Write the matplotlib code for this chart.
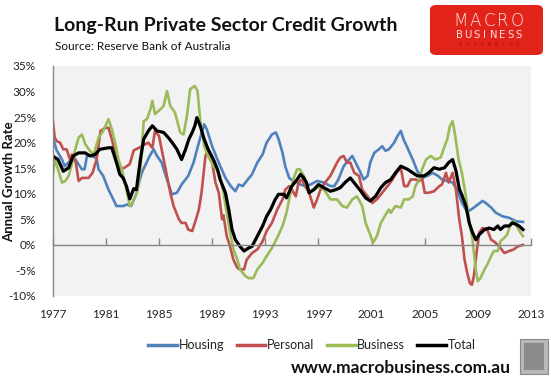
import matplotlib
matplotlib.use("Agg")
import matplotlib.pyplot as plt
from matplotlib.patches import FancyBboxPatch, Rectangle
import numpy as np

# ---------------- data ----------------
housing_years = [1977.0, 1977.3, 1977.7, 1977.9, 1978.3, 1978.7, 1979.2, 1979.4, 1979.6, 1980.3,
                 1980.45, 1980.8, 1981.2, 1981.45, 1981.8, 1982.3, 1982.6, 1982.9, 1983.3, 1983.5,
                 1983.7, 1984.3, 1984.6, 1984.85, 1985.2, 1985.6, 1985.97, 1986.35, 1986.7, 1987.2,
                 1987.6, 1988.0, 1988.4, 1988.6, 1989.0, 1989.4, 1990.0, 1990.4, 1990.75, 1991.0,
                 1991.3, 1991.6, 1992.0, 1992.4, 1992.8, 1993.1, 1993.5, 1993.8, 1994.0, 1994.3,
                 1994.5, 1994.8, 1995.1, 1995.5, 1995.65, 1996.0, 1996.4, 1996.9, 1997.4, 1997.9,
                 1998.2, 1998.5, 1998.9, 1999.3, 1999.55, 1999.8, 2000.05, 2000.4, 2000.7, 2000.9,
                 2001.2, 2001.55, 2001.8, 2002.05, 2002.3, 2002.7, 2002.95, 2003.2, 2003.4, 2003.7,
                 2004.1, 2004.45, 2004.8, 2005.2, 2005.6, 2006.0, 2006.3, 2006.7, 2007.1, 2007.5,
                 2007.8, 2008.2, 2008.6, 2009.0, 2009.35, 2009.6, 2010.0, 2010.35, 2010.85, 2011.35,
                 2011.9, 2012.4]
housing = [21.0, 18.5, 16.7, 15.4, 16.4, 16.7, 14.8, 14.8, 17.7, 17.0,
           14.8, 13.5, 10.8, 9.5, 7.6, 7.6, 7.9, 7.6, 10.0, 12.2,
           14.1, 17.4, 18.7, 17.4, 16.1, 12.8, 9.9, 10.2, 11.8, 13.5,
           16.1, 20.0, 23.6, 22.6, 19.3, 16.7, 13.1, 11.5, 10.5, 11.8,
           11.5, 12.5, 13.8, 16.1, 17.7, 20.0, 21.6, 22.0, 20.7, 18.0,
           15.4, 13.1, 12.5, 12.2, 11.8, 11.5, 11.8, 12.5, 12.2, 11.5,
           11.5, 12.8, 15.4, 16.7, 17.4, 16.1, 14.8, 12.8, 13.5, 16.1,
           18.0, 18.7, 19.3, 18.4, 18.7, 20.0, 21.3, 22.3, 20.7, 19.0,
           16.7, 14.4, 13.1, 13.5, 14.1, 13.5, 12.8, 12.5, 12.2, 10.5,
           8.2, 6.5, 7.1, 7.9, 8.6, 8.2, 7.3, 6.3, 5.6, 5.3,
           4.6, 4.5]

personal_years = [1977.0, 1977.15, 1977.3, 1977.55, 1977.8, 1978.05, 1978.3, 1978.45, 1978.7, 1978.95,
                  1979.2, 1979.7, 1980.0, 1980.3, 1980.6, 1980.95, 1981.2, 1981.45, 1981.8, 1982.1,
                  1982.4, 1982.8, 1983.1, 1983.5, 1983.96, 1984.2, 1984.5, 1984.7, 1985.0, 1985.2,
                  1985.5, 1985.85, 1986.1, 1986.5, 1986.7, 1987.0, 1987.2, 1987.5, 1987.7, 1988.0,
                  1988.2, 1988.5, 1988.7, 1989.0, 1989.25, 1989.5, 1989.75, 1989.85, 1990.1, 1990.35,
                  1990.6, 1990.9, 1991.1, 1991.4, 1991.6, 1992.0, 1992.4, 1992.8, 1993.1, 1993.5,
                  1993.9, 1994.3, 1994.5, 1994.8, 1995.0, 1995.3, 1995.5, 1995.75, 1996.0, 1996.3,
                  1996.65, 1996.9, 1997.15, 1997.5, 1997.9, 1998.15, 1998.4, 1998.65, 1998.9, 1999.15,
                  1999.4, 1999.7, 2000.05, 2000.3, 2000.7, 2001.05, 2001.4, 2001.8, 2002.2, 2002.5,
                  2002.8, 2003.2, 2003.45, 2003.7, 2003.95, 2004.3, 2004.6, 2004.8, 2005.0, 2005.3,
                  2005.7, 2006.1, 2006.3, 2006.6, 2006.8, 2007.1, 2007.35, 2007.6, 2007.8, 2008.0,
                  2008.2, 2008.4, 2008.55, 2008.7, 2008.9, 2009.1, 2009.35, 2009.7, 2010.0, 2010.2,
                  2010.5, 2010.7, 2011.0, 2011.35, 2011.7, 2012.0, 2012.4]
personal = [24.6, 21.0, 20.3, 20.0, 18.7, 18.7, 16.7, 17.7, 16.7, 12.5,
            13.1, 13.1, 14.1, 16.7, 22.3, 22.9, 22.9, 20.7, 16.7, 14.8,
            15.1, 15.8, 18.5, 19.0, 19.7, 20.0, 19.0, 22.3, 21.3, 18.7,
            14.8, 10.2, 7.6, 5.0, 4.3, 4.3, 3.0, 2.7, 4.3, 6.9,
            10.2, 17.4, 18.7, 16.1, 12.2, 10.2, 5.0, 5.8, 1.7, -0.3,
            -2.9, -4.5, -4.8, -4.8, -2.9, -1.6, -0.9, 0.7, 2.7, 4.3,
            6.9, 8.9, 10.8, 11.5, 10.8, 9.5, 12.2, 12.8, 11.5, 10.2,
            7.3, 8.9, 10.8, 12.2, 13.5, 14.8, 16.1, 17.1, 17.4, 16.1,
            16.1, 14.1, 13.5, 10.8, 9.5, 8.2, 8.9, 10.2, 11.5, 12.5,
            13.8, 15.1, 11.5, 11.5, 12.8, 12.8, 12.5, 13.1, 10.2, 10.2,
            10.5, 11.5, 11.8, 14.1, 12.2, 14.1, 10.8, 5.0, 1.7, -2.9,
            -5.5, -7.5, -7.8, -6.1, -1.6, 2.4, 3.3, 3.0, 1.0, 0.7,
            0.0, -0.6, -1.6, -1.2, -0.9, -0.3, 0.0]

business_years = [1977.0, 1977.15, 1977.4, 1977.7, 1977.95, 1978.2, 1978.4, 1978.7, 1978.95, 1979.2,
                  1979.45, 1979.8, 1980.1, 1980.45, 1980.8, 1981.2, 1981.45, 1981.7, 1981.95, 1982.2,
                  1982.6, 1982.8, 1983.0, 1983.1, 1983.35, 1983.6, 1983.85, 1984.1, 1984.35, 1984.5,
                  1984.7, 1985.1, 1985.35, 1985.6, 1985.85, 1986.2, 1986.6, 1986.85, 1987.1, 1987.35,
                  1987.7, 1987.9, 1988.1, 1988.4, 1988.7, 1989.1, 1989.4, 1989.6, 1989.85, 1990.1,
                  1990.35, 1990.6, 1990.9, 1991.1, 1991.5, 1991.75, 1992.1, 1992.4, 1992.8, 1993.1,
                  1993.5, 1993.9, 1994.3, 1994.6, 1994.9, 1995.1, 1995.4, 1995.6, 1995.9, 1996.3,
                  1996.65, 1997.15, 1997.5, 1997.9, 1998.4, 1998.8, 1999.15, 1999.55, 1999.9, 2000.3,
                  2000.55, 2000.9, 2001.1, 2001.4, 2001.7, 2002.05, 2002.3, 2002.45, 2002.8, 2003.2,
                  2003.45, 2003.8, 2004.1, 2004.3, 2004.6, 2004.8, 2005.1, 2005.45, 2005.8, 2006.2,
                  2006.5, 2006.7, 2006.9, 2007.1, 2007.3, 2007.55, 2007.8, 2008.1, 2008.35, 2008.6,
                  2008.85, 2009.0, 2009.2, 2009.5, 2009.7, 2010.0, 2010.2, 2010.5, 2010.7, 2011.0,
                  2011.2, 2011.5, 2011.7, 2012.0, 2012.2, 2012.4]
business = [13.5, 16.7, 14.8, 12.2, 12.5, 13.5, 15.4, 18.7, 21.0, 21.6,
            19.7, 18.4, 17.7, 21.0, 22.3, 24.6, 22.6, 20.0, 16.7, 14.8,
            10.2, 7.6, 8.2, 8.9, 10.2, 14.8, 24.2, 24.6, 26.5, 28.2,
            25.6, 26.5, 27.2, 30.1, 27.2, 25.9, 22.0, 21.6, 25.2, 30.5,
            31.1, 30.1, 24.6, 19.3, 17.4, 15.4, 14.5, 13.5, 10.2, 6.3,
            2.4, -0.9, -2.9, -4.8, -6.1, -6.5, -6.5, -4.8, -3.5, -2.2,
            -0.6, 1.4, 3.7, 6.3, 10.2, 12.8, 14.8, 14.8, 13.5, 10.2,
            10.8, 11.5, 10.5, 8.9, 8.9, 7.6, 7.3, 8.9, 9.5, 7.6,
            4.3, 2.0, 0.4, 1.7, 4.3, 5.9, 6.9, 6.3, 7.6, 7.3,
            8.9, 8.9, 9.5, 11.5, 12.8, 14.8, 16.7, 17.4, 16.7, 17.1,
            19.3, 20.7, 23.3, 24.2, 21.3, 16.7, 14.1, 9.5, 4.5, 1.0,
            -5.0, -7.1, -6.5, -4.8, -3.9, -2.2, -1.2, -1.2, 0.7, 1.4,
            2.0, 4.3, 4.6, 3.3, 2.4, 1.7]

total_years = [1977.0, 1977.4, 1977.8, 1978.2, 1978.55, 1978.95, 1979.45, 1979.8, 1980.2, 1980.55,
               1981.2, 1981.45, 1981.8, 1982.05, 1982.3, 1982.55, 1982.8, 1983.1, 1983.3, 1983.6,
               1983.85, 1984.2, 1984.5, 1984.85, 1985.35, 1985.7, 1986.0, 1986.35, 1986.7, 1987.0,
               1987.25, 1987.5, 1987.7, 1987.85, 1988.1, 1988.4, 1988.7, 1989.1, 1989.4, 1989.6,
               1990.0, 1990.25, 1990.5, 1990.75, 1991.1, 1991.4, 1991.75, 1992.0, 1992.4, 1992.8,
               1993.1, 1993.4, 1993.75, 1994.0, 1994.4, 1994.6, 1995.0, 1995.4, 1995.65, 1995.9,
               1996.1, 1996.3, 1996.65, 1997.0, 1997.4, 1997.9, 1998.3, 1998.65, 1999.0, 1999.4,
               1999.8, 2000.2, 2000.55, 2000.9, 2001.3, 2001.7, 2002.05, 2002.45, 2002.8, 2003.2,
               2003.45, 2003.7, 2004.1, 2004.45, 2004.95, 2005.3, 2005.7, 2006.1, 2006.5, 2006.8,
               2007.1, 2007.35, 2007.6, 2007.84, 2008.1, 2008.35, 2008.6, 2008.85, 2009.1, 2009.5,
               2009.85, 2010.2, 2010.5, 2010.7, 2011.0, 2011.35, 2011.6, 2011.9, 2012.1, 2012.4]
total = [17.4, 16.7, 14.4, 15.1, 17.4, 18.0, 18.0, 17.4, 17.7, 18.7,
         19.0, 19.0, 16.1, 13.8, 13.1, 11.5, 9.0, 11.0, 10.8, 16.7,
         20.7, 22.3, 23.3, 22.3, 22.0, 21.0, 20.0, 18.7, 16.7, 18.7,
         20.7, 22.0, 23.3, 24.9, 23.3, 20.7, 18.7, 16.7, 14.8, 12.8,
         10.2, 6.9, 3.0, 1.0, -0.3, -1.2, -0.6, -0.3, 1.7, 3.7,
         5.6, 6.9, 8.9, 9.9, 9.9, 9.2, 11.5, 12.8, 13.8, 13.1,
         12.2, 10.2, 10.8, 11.8, 11.2, 10.5, 10.8, 11.2, 12.2, 13.1,
         11.8, 10.5, 9.2, 8.6, 9.5, 11.2, 12.2, 12.8, 14.1, 15.4,
         15.1, 14.8, 14.1, 13.5, 13.5, 14.1, 15.1, 14.8, 15.1, 16.1,
         16.7, 14.5, 11.0, 9.5, 7.6, 4.3, 2.4, 1.0, 2.0, 3.0,
         3.3, 3.0, 3.7, 3.0, 3.7, 3.7, 4.3, 4.0, 3.7, 3.0]

series_names = ["Housing", "Personal", "Business", "Total"]
x_tick_years = [1977, 1981, 1985, 1989, 1993, 1997, 2001, 2005, 2009, 2013]
y_tick_values = [-10, -5, 0, 5, 10, 15, 20, 25, 30, 35]

title_text = "Long-Run Private Sector Credit Growth"
source_text = "Source: Reserve Bank of Australia"
y_label = "Annual Growth Rate"
url_text = "www.macrobusiness.com.au"

# ---------------- figure ----------------
W, H = 551, 378
fig = plt.figure(figsize=(W / 100, H / 100), dpi=100)
fig.patch.set_facecolor("white")
FONT = "Lato"

def px(x, y):
    """pixel (from top-left) -> figure fraction"""
    return x / W, 1 - y / H

left, right, top, bottom = 52.7, 531, 66, 296
ax = fig.add_axes([left / W, 1 - bottom / H, (right - left) / W, (bottom - top) / H])
ax.set_facecolor("#F2F2F2")

colors = ["#4F81BD", "#C0504D", "#9BBB59", "#000000"]
widths = [1.9, 1.9, 1.9, 2.3]
data = [(housing_years, housing), (personal_years, personal),
        (business_years, business), (total_years, total)]
lines = []
for (xs, ys), c, lw, name in zip(data, colors, widths, series_names):
    ln, = ax.plot(xs, ys, color=c, lw=lw, label=name, solid_joinstyle="round")
    lines.append(ln)

ax.set_xlim(1977, 2013)
ax.set_ylim(-10, 35)
ax.set_yticks(y_tick_values)
ax.set_yticklabels([f"{v}%" for v in y_tick_values])
ax.tick_params(axis="y", length=0, pad=12, labelsize=8.5, labelcolor="#222222")
for lab in ax.get_yticklabels():
    lab.set_fontfamily(FONT)

gray = "#868686"
for s in ["top", "right"]:
    ax.spines[s].set_visible(False)
ax.spines["left"].set_color(gray)
ax.spines["left"].set_linewidth(1.0)
ax.spines["bottom"].set_position(("data", 0))
ax.spines["bottom"].set_color(gray)
ax.spines["bottom"].set_linewidth(1.0)
ax.set_xticks(x_tick_years)
ax.tick_params(axis="x", direction="in", length=5, width=1.0, color=gray, labelbottom=False)

sec = ax.secondary_xaxis(0)
sec.set_xticks(x_tick_years)
sec.set_xticklabels([str(y) for y in x_tick_years])
sec.tick_params(axis="x", length=0, pad=9, labelsize=8.5, labelcolor="#222222")
sec.spines["bottom"].set_visible(False)
for lab in sec.get_xticklabels():
    lab.set_fontfamily(FONT)

# y label
fig.text(*px(9, 182), y_label, rotation=90, ha="center", va="center",
         fontsize=9.5, fontweight="bold", family=FONT, color="#111111")

# title & source
fig.text(*px(54, 25), title_text, ha="left", va="center", fontsize=14,
         fontweight="bold", family=FONT, color="#111111")
fig.text(*px(55, 47), source_text, ha="left", va="center", fontsize=8.5,
         family=FONT, color="#111111")

# legend
leg = fig.legend(handles=lines, labels=series_names, loc="center",
                 bbox_to_anchor=px(312, 345), ncol=4, frameon=False,
                 handlelength=2.3, handletextpad=0.12, columnspacing=1.0,
                 prop={"family": FONT, "size": 9})
for t in leg.get_texts():
    t.set_color("#222222")
for h in leg.legend_handles:
    h.set_linewidth(2.5)

# url
fig.text(*px(511, 368), url_text, ha="right", va="center", fontsize=12.5,
         fontweight="bold", family=FONT, color="#111111")

# wolf picture placeholder (grey framed thumbnail)
wx0, wy0 = px(520, 374)
fig.add_artist(Rectangle((wx0, wy0), 28 / W, 35 / H, transform=fig.transFigure,
                         facecolor="#B8B8B8", edgecolor="#8A8A8A", lw=0.8))
fig.add_artist(Rectangle((wx0 + 4 / W, wy0 + 4 / H), 20 / W, 27 / H, transform=fig.transFigure,
                         facecolor="#8C8C8C", edgecolor="none"))

# logo block
lx0, ly0 = px(430, 55)
fig.add_artist(FancyBboxPatch((lx0, ly0), 113 / W, 50 / H, transform=fig.transFigure,
                              boxstyle="round,pad=0,rounding_size=0.012",
                              facecolor="#E2231A", edgecolor="none"))
def spaced(word, x0, x1, yc, size, color, weight="normal"):
    n = len(word)
    step = (x1 - x0) / (n - 1)
    for i, ch in enumerate(word):
        fig.text(*px(x0 + i * step, yc), ch, ha="center", va="center",
                 fontsize=size, color=color, family="DejaVu Sans", fontweight=weight)
spaced("MACRO", 461, 517, 21, 12, "#FBE3E3", "light")
spaced("BUSINESS", 459, 519, 35.5, 7.2, "#FBE3E3")
spaced("SUPERBLOG", 460, 518, 45, 3.6, "#A01010")

fig.savefig("out.png", dpi=100, facecolor="white")
